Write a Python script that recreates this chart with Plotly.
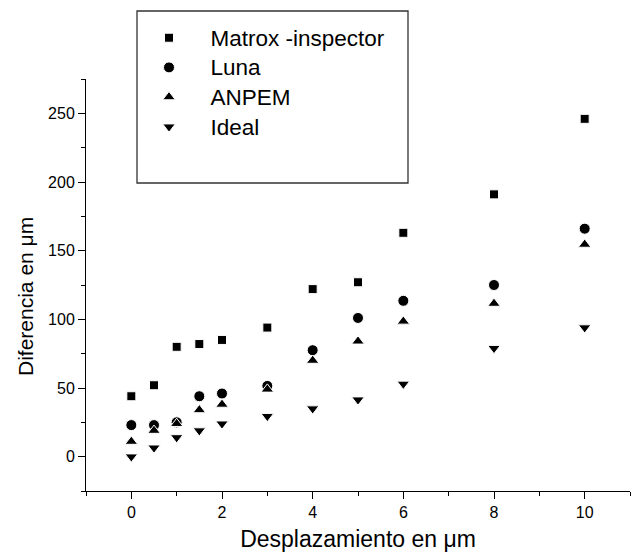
import plotly.graph_objects as go

# Data
desplazamiento = [0, 0.5, 1, 1.5, 2, 3, 4, 5, 6, 8, 10]
matrox = [44, 52, 80, 82, 85, 94, 122, 127, 163, 191, 246]
luna = [23, 23, 25, 44, 46, 51.5, 77.5, 101, 113.5, 125, 166]
anpem = [11, 19, 24, 34, 38, 49, 70, 84, 98.5, 111.5, 154.5]
ideal = [0, 6.5, 14, 19, 24, 29.5, 35, 41.5, 53, 79, 94]

series_names = ["Matrox -inspector", "Luna", "ANPEM", "Ideal"]
series_values = [matrox, luna, anpem, ideal]
symbols = ["square", "circle", "triangle-up", "triangle-down"]
sizes = [9, 11, 11, 11]

x_ticks = [0, 2, 4, 6, 8, 10]
x_minor = [-1, 1, 3, 5, 7, 9, 11]
y_ticks = [0, 50, 100, 150, 200, 250]
y_minor = [-25, 25, 75, 125, 175, 225, 275]

x_title = "Desplazamiento en μm"
y_title = "Diferencia en μm"

# page body has an 8px margin: figure coordinates = screen - 8
OFF = 8
W, H = 640, 556
L, R, T, B = 78, 18, 71, 73

fig = go.Figure()
for i, (name, vals, sym, sz) in enumerate(zip(series_names, series_values, symbols, sizes)):
    fig.add_trace(go.Scatter(
        x=desplazamiento, y=vals, mode="markers",
        name=f'<span style="font-size:22.5px">{name}</span>',
        marker=dict(symbol=sym, size=sz, color="black",
                    line=dict(color="white", width=1)),
    ))

font = "Liberation Sans, Arial, sans-serif"
pw = W - L - R
ph = H - T - B


def px_x(p):
    return (p - OFF - L) / pw


def px_y(p):
    return (H - B - (p - OFF)) / ph


fig.update_layout(
    width=W, height=H,
    margin=dict(l=L, r=R, t=T, b=B, pad=0, autoexpand=False),
    paper_bgcolor="white", plot_bgcolor="white",
    font=dict(family=font, color="black", size=16),
    showlegend=True,
    legend=dict(
        x=px_x(127.5), y=px_y(17.9), xanchor="left", yanchor="top",
        xref="paper", yref="paper",
        bgcolor="rgba(0,0,0,0)", borderwidth=0,
        font=dict(family=font, size=20.5, color="black"),
        itemwidth=73, traceorder="normal",
    ),
    xaxis=dict(
        range=[-1, 11], tickmode="array", tickvals=x_ticks,
        ticks="outside", ticklen=7, tickwidth=1, tickcolor="black",
        showline=True, linecolor="black", linewidth=1, mirror=False,
        showgrid=False, zeroline=False,
        tickfont=dict(size=16),
        minor=dict(ticks="outside", ticklen=4, tickwidth=1, tickcolor="black",
                   tickmode="array", tickvals=x_minor, showgrid=False),
        title=dict(text=x_title, font=dict(size=23), standoff=10),
    ),
    yaxis=dict(
        range=[-25, 275], tickmode="array", tickvals=y_ticks,
        ticks="outside", ticklen=7, tickwidth=1, tickcolor="black",
        showline=True, linecolor="black", linewidth=1, mirror=False,
        showgrid=False, zeroline=False,
        tickfont=dict(size=16),
        minor=dict(ticks="outside", ticklen=4, tickwidth=1, tickcolor="black",
                   tickmode="array", tickvals=y_minor, showgrid=False),
    ),
    annotations=[dict(
        text=y_title, textangle=-90, showarrow=False,
        xref="paper", yref="paper", x=px_x(25), y=px_y(297),
        xanchor="center", yanchor="middle",
        font=dict(family=font, size=21, color="black"),
    )],
    shapes=[dict(
        type="rect", xref="paper", yref="paper",
        x0=px_x(137), x1=px_x(408), y0=px_y(183), y1=px_y(11),
        line=dict(color="#333333", width=1.3), fillcolor="rgba(0,0,0,0)",
        layer="above",
    )],
)

fig.write_html("out.html")
